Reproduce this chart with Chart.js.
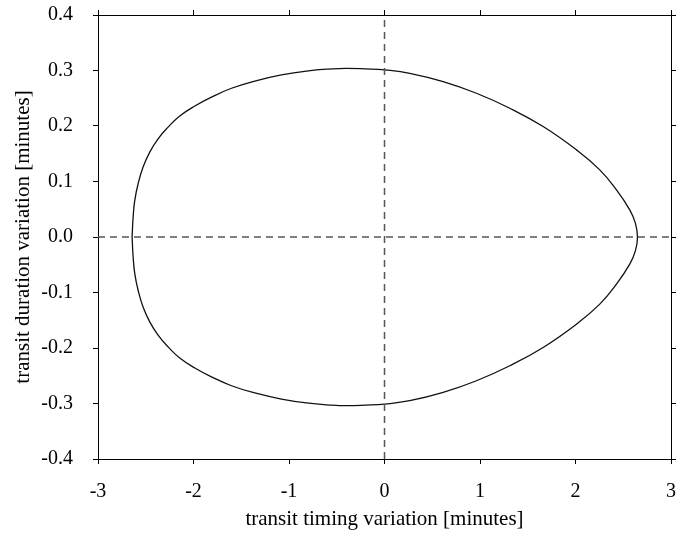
<!DOCTYPE html>
<html>
<head>
<meta charset="utf-8">
<title>TTV vs TDV</title>
<script src="https://cdn.jsdelivr.net/npm/chart.js@4/dist/chart.umd.min.js"></script>
<style>
  html, body { margin: 0; padding: 0; background: #fff; }
  #wrap { width: 698px; height: 537px; }
</style>
</head>
<body>
<div id="wrap"><canvas id="ttvChart" width="698" height="537"></canvas></div>
<script>
// upper branch of the loop, left to right (minutes)
const upperTtv = [-2.643, -2.632, -2.615, -2.580, -2.528, -2.458, -2.371, -2.266, -2.144, -1.986, -1.812, -1.602, -1.358, -1.079, -0.817, -0.550, -0.400, -0.200, 0.003, 0.265, 0.614, 0.963, 1.312, 1.661, 2.010, 2.254, 2.429, 2.568, 2.627, 2.649];
const upperTdv = [0.000, 0.036, 0.066, 0.096, 0.126, 0.153, 0.177, 0.198, 0.218, 0.236, 0.252, 0.268, 0.281, 0.292, 0.299, 0.303, 0.304, 0.303, 0.301, 0.295, 0.280, 0.259, 0.232, 0.199, 0.157, 0.121, 0.085, 0.049, 0.025, 0.000];

// lower branch, right to left
const lowerTtv = [2.627, 2.568, 2.429, 2.254, 2.010, 1.661, 1.312, 0.963, 0.614, 0.265, 0.003, -0.200, -0.400, -0.550, -0.817, -1.079, -1.358, -1.602, -1.812, -1.986, -2.144, -2.266, -2.371, -2.458, -2.528, -2.580, -2.615, -2.632, -2.643];
const lowerTdv = [-0.025, -0.049, -0.085, -0.121, -0.157, -0.199, -0.232, -0.259, -0.280, -0.295, -0.301, -0.303, -0.304, -0.303, -0.299, -0.292, -0.281, -0.268, -0.252, -0.236, -0.218, -0.198, -0.177, -0.153, -0.126, -0.096, -0.066, -0.036, 0.000];

const xTickValues = [-3, -2, -1, 0, 1, 2, 3];
const xTickLabels = ['-3', '-2', '-1', '0', '1', '2', '3'];
const yTickValues = [-0.4, -0.3, -0.2, -0.1, 0, 0.1, 0.2, 0.3, 0.4];
const yTickLabels = ['-0.4', '-0.3', '-0.2', '-0.1', '0.0', '0.1', '0.2', '0.3', '0.4'];

const xRange = [-3, 3];
const yRange = [-0.4, 0.4];

const loopPoints = [];
upperTtv.forEach((x, i) => loopPoints.push({ x: x, y: upperTdv[i] }));
lowerTtv.forEach((x, i) => loopPoints.push({ x: x, y: lowerTdv[i] }));

const serif = "'Liberation Serif', 'DejaVu Serif', serif";

function fixedTicks(values) {
    return scale => { scale.ticks = values.map(v => ({ value: v })); };
}

// pin each axis box to a fixed size and drop the label overhang padding
function boxSize(prop, px) {
    return s => {
        s[prop] = px;
        s.paddingTop = 0; s.paddingBottom = 0;
        s.paddingLeft = 0; s.paddingRight = 0;
    };
}

function frameAxis(extra) {
    return Object.assign({
        type: 'linear',
        grid: { drawOnChartArea: false, drawTicks: true, tickLength: 5, color: '#000', lineWidth: 1 },
        border: { display: true, color: '#000', width: 1 }
    }, extra);
}

const ctx = document.getElementById('ttvChart').getContext('2d');
const chart = new Chart(ctx, {
    type: 'scatter',
    data: {
        datasets: [
            {
                data: [{ x: xRange[0], y: 0 }, { x: xRange[1], y: 0 }],
                showLine: true,
                borderColor: '#555',
                borderWidth: 1.5,
                borderDash: [7, 5],
                pointRadius: 0
            },
            {
                data: [{ x: 0, y: yRange[0] }, { x: 0, y: yRange[1] }],
                showLine: true,
                borderColor: '#555',
                borderWidth: 1.5,
                borderDash: [7, 5],
                pointRadius: 0
            },
            {
                data: loopPoints,
                showLine: true,
                borderColor: '#111',
                borderWidth: 1.3,
                tension: 0.45,
                pointRadius: 0
            }
        ]
    },
    options: {
        responsive: false,
        animation: false,
        events: [],
        layout: { padding: 0 },
        plugins: { legend: { display: false }, tooltip: { enabled: false } },
        scales: {
            x: frameAxis({
                position: 'bottom',
                min: xRange[0], max: xRange[1],
                afterBuildTicks: fixedTicks(xTickValues),
                afterFit: boxSize('height', 78),
                ticks: {
                    padding: 16, color: '#000', maxRotation: 0,
                    font: { family: serif, size: 20 },
                    callback: (v, i) => xTickLabels[i]
                },
                title: {
                    display: true, text: 'transit timing variation [minutes]', color: '#000',
                    font: { family: serif, size: 21 }, padding: { top: 0, bottom: 5 }
                }
            }),
            x2: frameAxis({
                position: 'top',
                min: xRange[0], max: xRange[1],
                afterBuildTicks: fixedTicks(xTickValues),
                afterFit: boxSize('height', 15),
                ticks: { display: false }
            }),
            y: frameAxis({
                position: 'left',
                min: yRange[0], max: yRange[1],
                afterBuildTicks: fixedTicks(yTickValues),
                afterFit: boxSize('width', 98),
                ticks: {
                    padding: 20, color: '#000',
                    font: { family: serif, size: 20 },
                    callback: (v, i) => yTickLabels[i]
                },
                title: {
                    display: true, text: 'transit duration variation [minutes]', color: '#000',
                    font: { family: serif, size: 21 }, padding: { top: 11, bottom: 0 }
                }
            }),
            y2: frameAxis({
                position: 'right',
                min: yRange[0], max: yRange[1],
                afterBuildTicks: fixedTicks(yTickValues),
                afterFit: boxSize('width', 27),
                ticks: { display: false }
            })
        }
    }
});
</script>
</body>
</html>
